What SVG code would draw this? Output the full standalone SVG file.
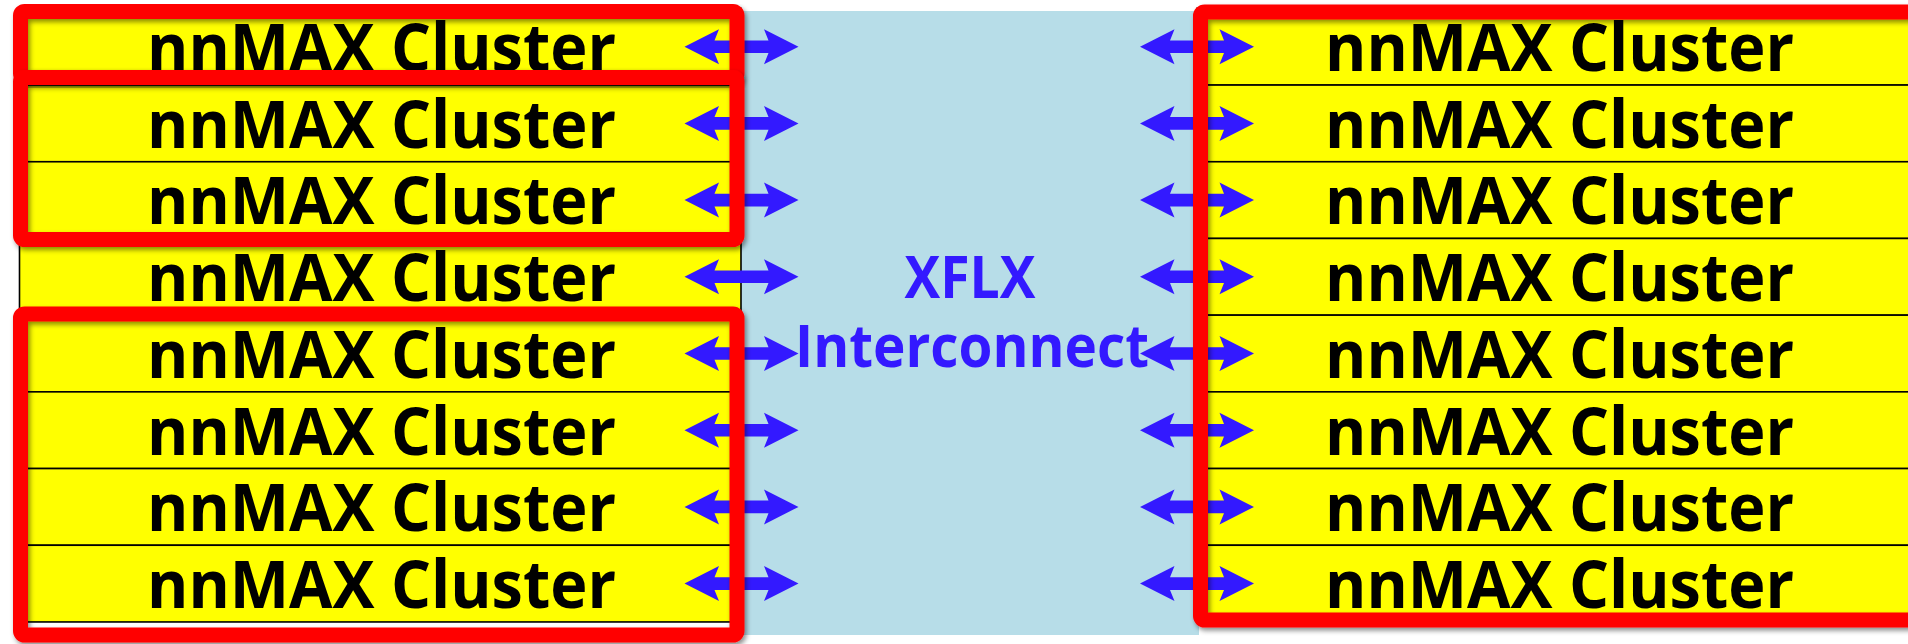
<svg xmlns="http://www.w3.org/2000/svg" xmlns:xlink="http://www.w3.org/1999/xlink" width="1908" height="644" viewBox="0 0 1908 644">
<defs>
<style>
.box{fill:#FFFF00;stroke:#000;stroke-width:1.6}
.lbl{font-family:"Open Sans","Liberation Sans",sans-serif;font-weight:700;font-size:67px;fill:#000;text-anchor:middle}
.xf{font-family:"Open Sans","Liberation Sans",sans-serif;font-weight:700;font-size:59px;fill:#3319FF;text-anchor:middle}
.frame{fill:none;stroke:#FF0000;stroke-width:15;filter:url(#sh)}
.arrow{fill:#3319FF}
</style>
<filter id="sh" x="-5%" y="-10%" width="110%" height="125%">
<feDropShadow dx="2" dy="3" stdDeviation="2.5" flood-color="#000" flood-opacity="0.45"/>
</filter>
<path id="arr" d="M0,0 L34.5,-17.5 L30,-6.3 L84,-6.3 L79.5,-17.5 L114,0 L79.5,17.5 L84,6.3 L30,6.3 L34.5,17.5 Z"/>
</defs>
<rect x="741" y="11" width="458" height="624" fill="#B7DDE8"/>
<g id="xflx">
<text class="xf" x="970" y="298" textLength="131" lengthAdjust="spacingAndGlyphs">XFLX</text>
<text class="xf" x="972" y="367" textLength="354" lengthAdjust="spacingAndGlyphs">Interconnect</text>
</g>
<g id="left-clusters">
<g id="L1"><rect class="box" x="19.5" y="8.35" width="721.5" height="76.7"/><text class="lbl" x="381.5" y="71" textLength="469" lengthAdjust="spacingAndGlyphs">nnMAX Cluster</text></g>
<g id="L2"><rect class="box" x="19.5" y="85.05" width="721.5" height="76.7"/><text class="lbl" x="381.5" y="147.7" textLength="469" lengthAdjust="spacingAndGlyphs">nnMAX Cluster</text></g>
<g id="L3"><rect class="box" x="19.5" y="161.75" width="721.5" height="76.7"/><text class="lbl" x="381.5" y="224.4" textLength="469" lengthAdjust="spacingAndGlyphs">nnMAX Cluster</text></g>
<g id="L4"><rect class="box" x="19.5" y="238.45" width="721.5" height="76.7"/><text class="lbl" x="381.5" y="301.1" textLength="469" lengthAdjust="spacingAndGlyphs">nnMAX Cluster</text></g>
<g id="L5"><rect class="box" x="19.5" y="315.15" width="721.5" height="76.7"/><text class="lbl" x="381.5" y="377.8" textLength="469" lengthAdjust="spacingAndGlyphs">nnMAX Cluster</text></g>
<g id="L6"><rect class="box" x="19.5" y="391.85" width="721.5" height="76.7"/><text class="lbl" x="381.5" y="454.5" textLength="469" lengthAdjust="spacingAndGlyphs">nnMAX Cluster</text></g>
<g id="L7"><rect class="box" x="19.5" y="468.55" width="721.5" height="76.7"/><text class="lbl" x="381.5" y="531.2" textLength="469" lengthAdjust="spacingAndGlyphs">nnMAX Cluster</text></g>
<g id="L8"><rect class="box" x="19.5" y="545.25" width="721.5" height="76.7"/><text class="lbl" x="381.5" y="607.9" textLength="469" lengthAdjust="spacingAndGlyphs">nnMAX Cluster</text></g>
</g>
<g id="right-clusters">
<g id="R1"><rect class="box" x="1197" y="8.35" width="730" height="76.7"/><text class="lbl" x="1559.5" y="71" textLength="469" lengthAdjust="spacingAndGlyphs">nnMAX Cluster</text></g>
<g id="R2"><rect class="box" x="1197" y="85.05" width="730" height="76.7"/><text class="lbl" x="1559.5" y="147.7" textLength="469" lengthAdjust="spacingAndGlyphs">nnMAX Cluster</text></g>
<g id="R3"><rect class="box" x="1197" y="161.75" width="730" height="76.7"/><text class="lbl" x="1559.5" y="224.4" textLength="469" lengthAdjust="spacingAndGlyphs">nnMAX Cluster</text></g>
<g id="R4"><rect class="box" x="1197" y="238.45" width="730" height="76.7"/><text class="lbl" x="1559.5" y="301.1" textLength="469" lengthAdjust="spacingAndGlyphs">nnMAX Cluster</text></g>
<g id="R5"><rect class="box" x="1197" y="315.15" width="730" height="76.7"/><text class="lbl" x="1559.5" y="377.8" textLength="469" lengthAdjust="spacingAndGlyphs">nnMAX Cluster</text></g>
<g id="R6"><rect class="box" x="1197" y="391.85" width="730" height="76.7"/><text class="lbl" x="1559.5" y="454.5" textLength="469" lengthAdjust="spacingAndGlyphs">nnMAX Cluster</text></g>
<g id="R7"><rect class="box" x="1197" y="468.55" width="730" height="76.7"/><text class="lbl" x="1559.5" y="531.2" textLength="469" lengthAdjust="spacingAndGlyphs">nnMAX Cluster</text></g>
<g id="R8"><rect class="box" x="1197" y="545.25" width="730" height="76.7"/><text class="lbl" x="1559.5" y="607.9" textLength="469" lengthAdjust="spacingAndGlyphs">nnMAX Cluster</text></g>
</g>
<g id="connectors" class="arrow">
<use href="#arr" x="684.5" y="46.7"/>
<use href="#arr" x="684.5" y="123.4"/>
<use href="#arr" x="684.5" y="200.1"/>
<use href="#arr" x="684.5" y="276.8"/>
<use href="#arr" x="684.5" y="353.5"/>
<use href="#arr" x="684.5" y="430.2"/>
<use href="#arr" x="684.5" y="506.9"/>
<use href="#arr" x="684.5" y="583.6"/>
<use href="#arr" x="1140" y="46.7"/>
<use href="#arr" x="1140" y="123.4"/>
<use href="#arr" x="1140" y="200.1"/>
<use href="#arr" x="1140" y="276.8"/>
<use href="#arr" x="1140" y="353.5"/>
<use href="#arr" x="1140" y="430.2"/>
<use href="#arr" x="1140" y="506.9"/>
<use href="#arr" x="1140" y="583.6"/>
</g>
<g id="frames">
<rect class="frame" x="20.5" y="11.5" width="716.5" height="66" rx="4"/>
<rect class="frame" x="20.5" y="77.5" width="716.5" height="162" rx="4"/>
<rect class="frame" x="20.5" y="314" width="716.5" height="321" rx="4"/>
<rect class="frame" x="1200.5" y="12" width="740" height="608" rx="4"/>
</g>
</svg>
